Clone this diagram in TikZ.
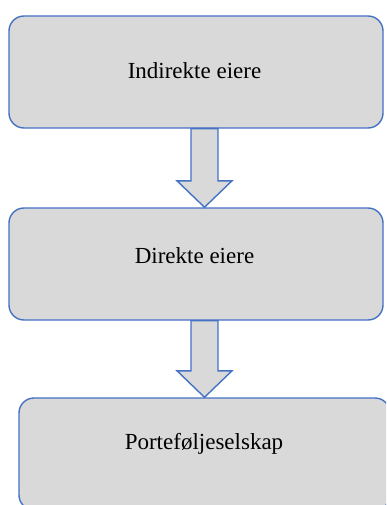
\documentclass[tikz,border=0pt]{standalone}
\usepackage{fontspec}
\setmainfont{Liberation Serif}
\usetikzlibrary{calc}

\definecolor{boxblue}{HTML}{4472C4}
\definecolor{boxgray}{HTML}{D9D9D9}

% block arrow from the bottom of one box to the top of the next
\newcommand{\blockarr}[2]{%
  \draw[arr] ($(#1.south -| port.center)+(-13.5,0)$)
    -- ($(#2.north -| port.center)+(-13.5,-26.5)$)
    -- ($(#2.north -| port.center)+(-27.5,-26.5)$)
    -- (#2.north -| port.center)
    -- ($(#2.north -| port.center)+(27.5,-26.5)$)
    -- ($(#2.north -| port.center)+(13.5,-26.5)$)
    -- ($(#1.south -| port.center)+(13.5,0)$) -- cycle;}

\begin{document}
\begin{tikzpicture}[x=1pt,y=-1pt,
    box/.style={draw=boxblue, fill=boxgray, line width=1.4pt, rounded corners=15pt,
      inner sep=0pt, minimum width=374pt, minimum height=112pt},
    arr/.style={draw=boxblue, fill=boxgray, line width=1.4pt, line join=miter},
    lbl/.style={font=\fontsize{23}{27}\selectfont, text=black}]
  \useasboundingbox (0,0) rectangle (386,505);
  \clip (0,0) rectangle (386,505);

  \node[box] (indirekte) at (196,72) {};
  \node[box] (direkte) at (196,264) {};
  \node[box, minimum width=371pt, minimum height=112pt] (port) at (204.5,454) {};

  \node[lbl] (tindirekte) at (194.5,71) {Indirekte eiere};
  \node[lbl] (tdirekte) at (194.5,256) {Direkte eiere};
  \node[lbl] (tport) at (204,444) {Porteføljeselskap};

  \blockarr{indirekte}{direkte}
  \blockarr{direkte}{port}
\end{tikzpicture}
\end{document}
